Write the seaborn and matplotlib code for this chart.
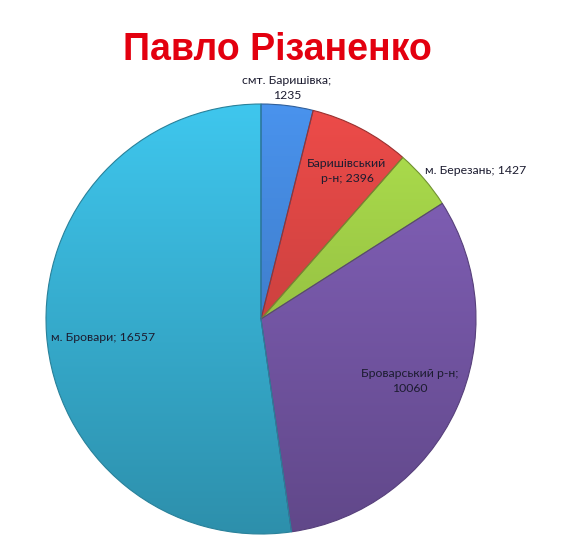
import numpy as np
import matplotlib
matplotlib.use("Agg")
import matplotlib.pyplot as plt
import matplotlib.colors as mcolors
import seaborn as sns

sns.set_theme(style="white")
plt.rcParams['font.family'] = ['Lato', 'DejaVu Sans']

# data
places = ['смт. Баришівка', 'Баришівський\nр-н', 'м. Березань', 'Броварський р-н', 'м. Бровари']
votes = [1235, 2396, 1427, 10060, 16557]
colors = sns.color_palette(['#4488dc', '#dc4644', '#a2d148', '#7c5cb0', '#3ab8dc'])

# label text and placement (data units of the pie axes, radius = 1)
label_texts = ['смт. Баришівка;\n1235', 'Баришівський\nр-н; 2396', 'м. Березань; 1427',
               'Броварський р-н;\n10060', 'м. Бровари; 16557']
label_pos = [(0.12, 1.075), (0.40, 0.69), (1.0, 0.69), (0.69, -0.29), (-0.735, -0.085)]

fig = plt.figure(figsize=(5.75, 5.6), dpi=100)
# square axes in pixels: center (261, 319), radius 215
ax = fig.add_axes([46 / 575, 26 / 560, 430 / 575, 430 / 560])

wedges, _ = ax.pie(votes, colors=colors, startangle=90, counterclock=False,
                   radius=1, wedgeprops=dict(linewidth=0.8))

# Excel-like shading: lighter at the top, darker at the bottom
shade = np.linspace(0.78, 1.08, 256)[:, None]
for w, c in zip(wedges, colors):
    base = np.array(mcolors.to_rgb(c))
    img = np.clip(base[None, None, :] * shade[:, :, None], 0, 1)
    im = ax.imshow(img, extent=(-1, 1, -1, 1), origin='lower', aspect='auto',
                   zorder=w.get_zorder() + 0.1, interpolation='bilinear')
    im.set_clip_path(w)
    w.set_edgecolor(tuple(base * 0.7))
    w.set_zorder(w.get_zorder() + 0.2)
    w.set_facecolor('none')

ax.set_xlim(-1, 1)
ax.set_ylim(-1, 1)
ax.set_aspect('auto')
ax.axis('off')

for txt, (x, y) in zip(label_texts, label_pos):
    ax.text(x, y, txt, ha='center', va='center', fontsize=8.8, color='#1c1c30',
            linespacing=1.45, zorder=10, clip_on=False)

fig.text(277 / 575, 1 - 50 / 560, 'Павло Різаненко', ha='center', va='center',
         fontsize=27, fontweight='bold', color='#e3000f', family='Liberation Sans')

fig.savefig('out.png', dpi=100)
